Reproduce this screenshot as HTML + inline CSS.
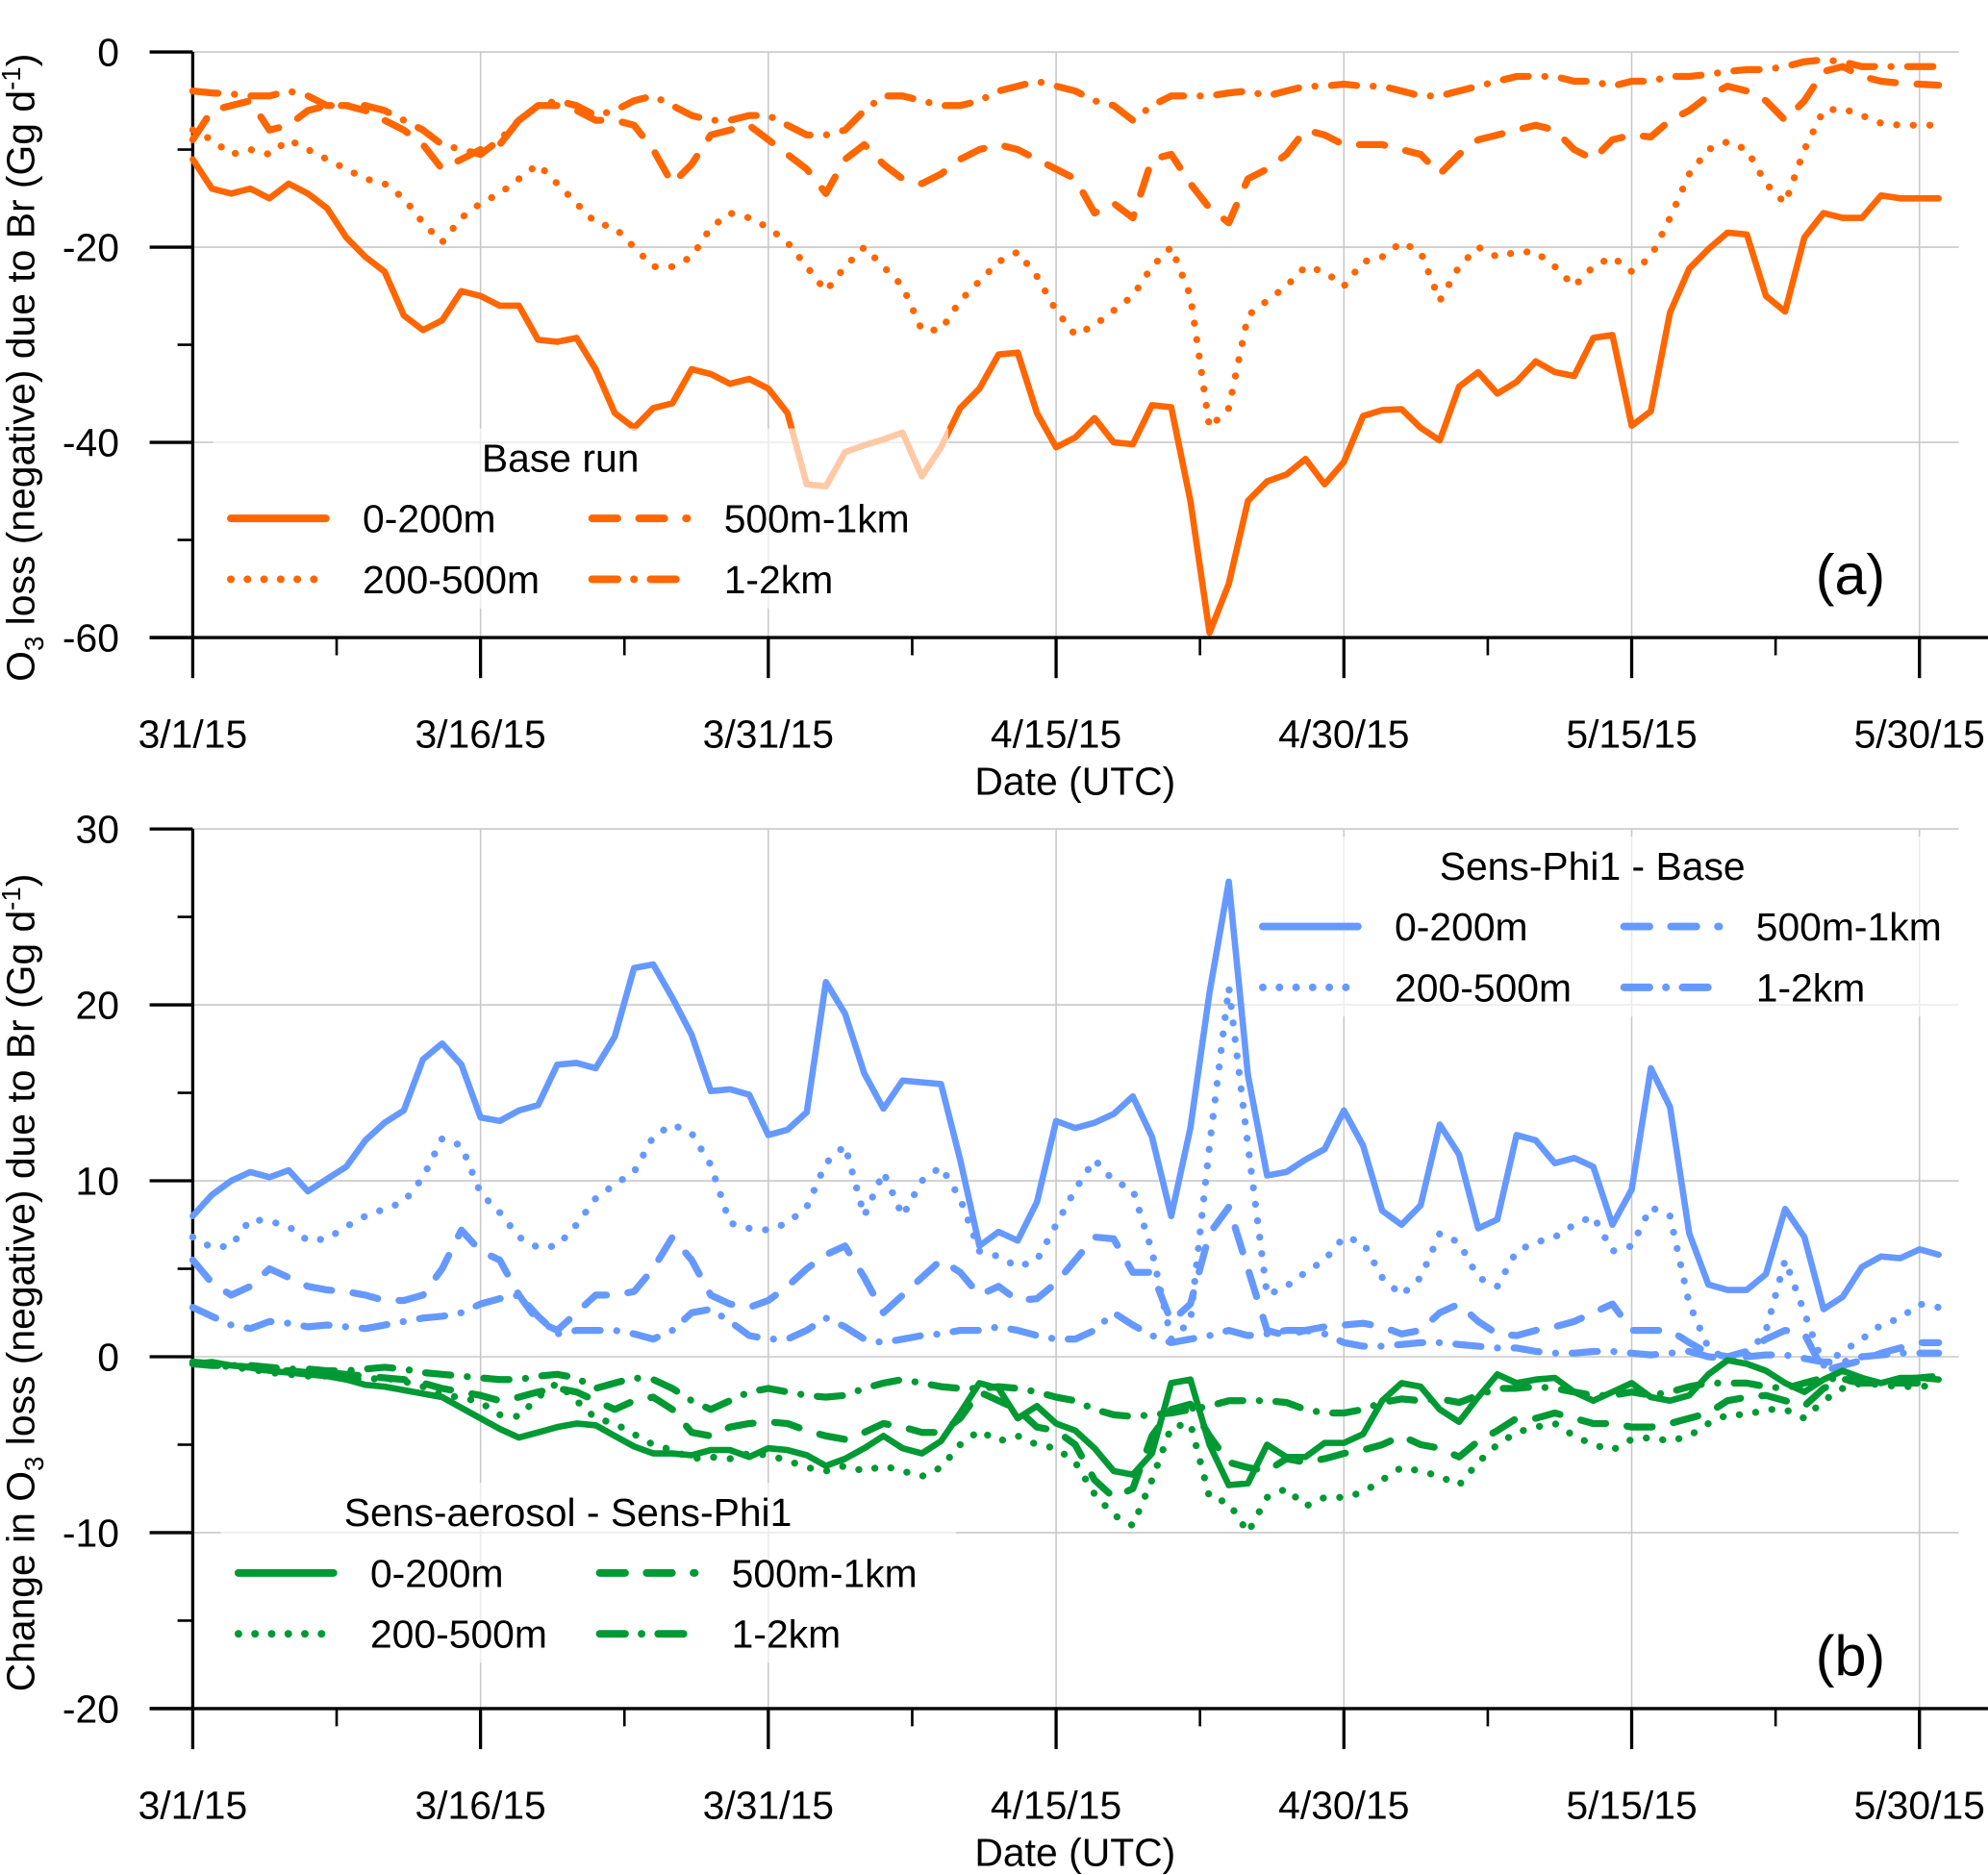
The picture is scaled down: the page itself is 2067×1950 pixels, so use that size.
<!DOCTYPE html>
<html><head><meta charset="utf-8"><style>
html,body{margin:0;padding:0;background:#fff;}
svg{display:block;font-family:"Liberation Sans",Arial,sans-serif;}
</style></head><body>
<svg id="chart" width="2067" height="1950" viewBox="0 0 1568 1479.3" xmlns="http://www.w3.org/2000/svg">
<g id="gA"></g>
<g id="gB"></g>
</svg>
<script>
const aSurf=[-11,-14,-14.5,-14,-15,-13.5,-14.5,-16,-19,-21,-22.5,-27,-28.5,-27.5,-24.5,-25,-26,-26,-29.5,-29.7,-29.3,-32.5,-37,-38.5,-36.5,-36,-32.5,-33,-34,-33.5,-34.5,-37,-44.3,-44.5,-41,-40.3,-39.7,-39,-43.5,-40.5,-36.5,-34.5,-31,-30.8,-37,-40.5,-39.5,-37.5,-40,-40.2,-36.2,-36.4,-46,-59.5,-54.5,-46,-44,-43.3,-41.7,-44.3,-42,-37.3,-36.7,-36.6,-38.5,-39.8,-34.3,-32.8,-35,-33.8,-31.7,-32.8,-33.2,-29.3,-29,-38.3,-36.8,-26.7,-22.2,-20.2,-18.5,-18.7,-25,-26.6,-19,-16.5,-17,-17,-14.7,-15,-15,-15];
const aMid=[-8,-9,-10.5,-10,-10.5,-9,-10,-11,-12,-13,-13.5,-15,-17.5,-19.5,-17,-15.5,-14.5,-13,-11.5,-13.5,-15.5,-17.5,-18,-20,-22,-22,-21,-18,-16.5,-17,-18,-19.5,-22,-24.5,-22,-20,-22,-24,-28.5,-28.5,-25.5,-23.5,-21.5,-20.5,-23,-26.5,-29,-28,-26.5,-25,-22,-20,-25,-38.5,-36.5,-27,-25.5,-24,-22,-22.5,-24,-21.5,-21,-19.5,-20.5,-25.5,-22,-20,-21,-20.5,-20.5,-22,-24,-22,-21,-22.5,-21,-17,-12.5,-10,-9.2,-10,-13.5,-15.5,-10,-6,-5.8,-6.5,-7.3,-7.5,-7.5,-7.5];
const aUpper=[-9,-6,-5.5,-5,-8,-7.5,-6,-5.5,-5.5,-6,-7,-8,-9.5,-12,-11,-10,-9.5,-7,-5.5,-5.5,-6,-7,-7,-7.5,-10,-13.5,-11.5,-8.5,-8,-7.5,-9,-10.5,-12,-14.5,-11,-9.5,-11.5,-13,-13.5,-12.5,-11,-10,-9.5,-10,-11,-12,-13,-16.5,-15.5,-17,-11,-10.5,-13.5,-16,-17.5,-13,-12,-10.5,-8,-8.5,-9.5,-9.5,-9.5,-10,-10.5,-12.5,-10.5,-9,-8.5,-8,-7.5,-8,-10,-11,-9,-8.5,-8.7,-7,-6,-4.5,-3.5,-4,-5,-7,-5,-2,-1.5,-2.5,-3,-3.2,-3.3,-3.4];
const aHigh=[-4,-4.2,-4.3,-4.5,-4.5,-4,-4.5,-5.5,-5.5,-5.5,-6,-7,-8,-9.5,-10,-10.5,-9,-7,-5.5,-5,-5.5,-6.5,-6,-5,-4.5,-5.5,-6.5,-7,-7,-6.5,-6.5,-7.5,-8.5,-8.5,-8,-6,-4.5,-4.5,-5,-5.5,-5.5,-5,-4,-3.5,-3,-3.5,-4,-5,-5.5,-7,-5.5,-4.5,-4.5,-4.5,-4.2,-4,-4.5,-4,-3.5,-3.5,-3.3,-3.5,-3.5,-4,-4.5,-4.5,-4,-3.5,-3,-2.5,-2.5,-2.5,-3,-3,-3.5,-3,-3,-2.5,-2.5,-2.3,-2,-1.8,-1.8,-1.5,-1,-0.8,-1,-1.5,-1.5,-1.5,-1.5,-1.5];
const bBlueSurf=[8,9.2,10,10.5,10.2,10.6,9.4,10.1,10.8,12.3,13.3,14,16.9,17.8,16.6,13.6,13.4,14,14.3,16.6,16.7,16.4,18.2,22.1,22.3,20.4,18.3,15.1,15.2,14.9,12.6,12.9,13.9,21.3,19.5,16.1,14.1,15.7,15.6,15.5,11.2,6.3,7.1,6.6,8.8,13.4,13,13.3,13.8,14.8,12.5,8,13,20.7,27,16,10.3,10.5,11.2,11.8,14,12,8.3,7.5,8.6,13.2,11.5,7.3,7.8,12.6,12.3,11,11.3,10.8,7.5,9.5,16.4,14.2,7,4.1,3.8,3.8,4.7,8.4,6.8,2.7,3.4,5.1,5.7,5.6,6.1,5.8];
const bBlueMid=[6.8,6.2,6.3,7.8,7.7,7.4,6.6,6.7,7.4,8,8.4,8.8,10.2,12.4,12,9.3,8.2,6.8,6.2,6.3,7.5,9,9.8,10.5,12.5,13.2,12.7,10.9,7.6,7.3,7.2,7.6,8.5,11,12,8,10.5,8,10,10.8,9,6,5.7,5.1,5.5,7.5,9.5,11.2,10,9.5,6,1,2,12,21,12,3.5,4,4.8,5.5,6.8,6.5,4.5,3.5,4.5,7,6.5,4.5,4,6,6.5,6.8,7.5,8,6,6.3,8.5,8,3,0.5,-0.2,0,1.5,5.5,2.5,-0.5,0.3,1,1.8,2.2,3,2.8];
const bBlueUpper=[5.5,4.2,3.5,4,5,4.5,4,3.8,3.7,3.5,3.2,3.2,3.5,5,7.2,6,5.5,3.5,2,1.5,2.5,3.5,3.5,3.7,5,6.8,5.5,3.5,3,2.8,3.2,4,5,5.8,6.3,4.5,2.5,3.5,4.5,5.5,4.8,3.5,4,3.2,3.3,4.2,5.5,6.8,6.7,4.8,4.8,2,3,7,8.5,5,1.5,1.2,1.5,1.7,1.8,1.9,1.7,1.3,1.5,2.5,3,2,1.3,1.2,1.5,1.7,2,2.5,3,1.5,1.5,1.5,0.8,0.2,0,0.3,1,1.5,1.3,-0.8,-0.5,-0.2,0.2,0.5,0.8,0.8];
const bBlueHigh=[2.8,2.3,1.8,1.6,2,1.9,1.7,1.8,1.7,1.6,1.8,2,2.2,2.3,2.5,3,3.3,3.5,2.3,1.3,1.5,1.5,1.5,1.3,1,1.5,2.5,2.7,2,1.2,1,1,1.5,2.2,1.7,1,0.8,1,1.2,1.3,1.5,1.5,1.7,1.5,1.2,1,1,1.5,2.5,1.8,1.2,0.8,1,1.2,1.5,1.2,1.3,1.5,1.5,1.3,0.8,0.6,0.6,0.7,0.8,0.8,0.7,0.6,0.5,0.5,0.3,0.2,0.2,0.3,0.3,0.2,0.1,0.2,0.3,0,-0.1,0,0.1,0.1,-0.1,-0.3,-0.3,0,0.1,0.2,0.2,0.2];
const bGreenSurf=[-0.4,-0.3,-0.5,-0.6,-0.8,-0.9,-1,-1.1,-1.3,-1.6,-1.7,-1.9,-2.1,-2.3,-2.9,-3.5,-4.1,-4.6,-4.3,-4,-3.8,-3.9,-4.5,-5.1,-5.5,-5.5,-5.6,-5.3,-5.3,-5.7,-5.2,-5.3,-5.6,-6.2,-5.8,-5.2,-4.5,-5.2,-5.5,-4.8,-3.2,-1.5,-1.8,-3.5,-2.8,-3.8,-4.2,-5.2,-6.5,-6.7,-5.5,-1.5,-1.3,-5,-7.3,-7.2,-5,-5.7,-5.7,-4.9,-4.9,-4.4,-2.5,-1.5,-1.7,-3,-3.7,-2.3,-1,-1.5,-1.3,-1.2,-2,-2.5,-2,-1.5,-2.3,-2.5,-2.2,-1,-0.2,-0.4,-0.8,-1.5,-2,-1.3,-0.8,-1.2,-1.5,-1.2,-1.2,-1.3];
const bGreenMid=[-0.4,-0.4,-0.6,-0.7,-0.9,-1,-1.1,-1.1,-1.2,-1.3,-1.2,-1.4,-1.7,-2.2,-2.3,-2.6,-3.3,-3.4,-2.3,-1.5,-2.5,-3.5,-3.8,-4.4,-5,-5.3,-5.8,-5.7,-5.8,-5.5,-5.6,-5.9,-6.3,-6.5,-6.2,-6.5,-6.2,-6.5,-6.8,-6.3,-5,-4.2,-4.8,-4.5,-5,-5.2,-6,-7.8,-9,-9.6,-7,-4,-3.8,-8,-8.3,-10,-8,-7.5,-8.5,-8,-8,-7.7,-7,-6.3,-6.5,-6.8,-7.3,-6,-5,-4.3,-4,-3.8,-4.5,-5,-5.3,-4.7,-4.6,-4.8,-4.5,-3.8,-3.3,-3.3,-3,-3,-3.5,-2.5,-1.8,-1.5,-1.6,-1.7,-1.7,-1.6];
const bGreenUpper=[-0.4,-0.5,-0.5,-0.6,-0.8,-0.8,-0.9,-0.9,-1,-1.1,-1.2,-1.3,-1.5,-1.8,-2,-2.2,-2.5,-2.3,-2,-1.8,-2,-2.5,-3,-2.5,-2.3,-3,-4.3,-4.5,-4,-3.8,-3.7,-3.8,-4.2,-4.5,-4.7,-4.3,-3.8,-4,-4.3,-4.3,-3.5,-2,-2.5,-3,-4,-4.2,-5,-7,-8,-7.5,-4.5,-3,-2.7,-4.5,-6,-6.3,-6.5,-5.8,-6,-5.8,-5.5,-5.3,-5,-4.5,-5,-5.2,-5.7,-4.8,-4.2,-3.5,-3.5,-3.2,-3.5,-3.8,-3.8,-4,-4,-3.8,-3.5,-3.2,-2.5,-2.3,-2.2,-2.5,-2.8,-1.8,-1.3,-1.3,-1.5,-1.5,-1.5,-1.4];
const bGreenHigh=[-0.3,-0.4,-0.5,-0.5,-0.6,-0.7,-0.7,-0.8,-0.8,-0.7,-0.6,-0.7,-0.9,-1,-1.1,-1.2,-1.3,-1.3,-1.1,-1,-1.2,-1.8,-1.5,-1.2,-1.3,-1.8,-2.5,-3,-2.5,-2,-1.8,-2,-2.2,-2.3,-2.2,-1.8,-1.5,-1.3,-1.5,-1.7,-1.8,-1.8,-1.7,-1.8,-2,-2.3,-2.5,-3,-3.3,-3.4,-3.3,-3.2,-3,-2.8,-2.5,-2.5,-2.5,-2.6,-3,-3.2,-3.2,-3,-2.6,-2.4,-2.5,-2.4,-2.6,-2.2,-1.8,-1.8,-1.7,-1.8,-2,-2.2,-2.2,-2,-2.2,-2,-1.7,-1.5,-1.5,-1.5,-1.7,-1.8,-1.5,-1.2,-1.3,-1.5,-1.5,-1.3,-1.2,-1.1];
const dateLabels=["3/1/15","3/16/15","3/31/15","4/15/15","4/30/15","5/15/15","5/30/15"];
const aTicks=[0,-20,-40,-60];
const bTicks=[30,20,10,0,-10,-20];
const layers=["0-200m","200-500m","500m-1km","1-2km"];

const NS="http://www.w3.org/2000/svg";
const X0=152, PXD=15.133;
function xs(d){return X0+d*PXD;}
const dashes={solid:"",dot:"0.1 13",dash:"20 17",dashdot:"20 13 0.1 13"};
function mk(p,tag,at,txt){const e=document.createElementNS(NS,tag);for(const k in at)e.setAttribute(k,at[k]);if(txt!=null)e.textContent=txt;p.appendChild(e);return e;}

function panel(g,top,bot,vmax,vmin,ticks,grid,minor,title,titleY){
  const ys=v=>top+(vmax-v)/(vmax-vmin)*(bot-top);
  for(const v of grid){ if(v===vmin)continue;
    const l=mk(g,"line",{x1:X0,x2:1545,y1:ys(v),y2:ys(v),stroke:"#c8c8c8","stroke-width":1.2});
    
    }
  for(let i=1;i<dateLabels.length;i++){
    const l=mk(g,"line",{x1:xs(i*15),x2:xs(i*15),y1:top,y2:bot,stroke:"#c8c8c8","stroke-width":1.2});
    
    }
  const ax=mk(g,"path",{d:`M${X0},${top}V${bot}M118,${bot}H1568`,stroke:"#000","stroke-width":2.5,fill:"none"});
  
  
  for(const v of ticks){
    mk(g,"line",{x1:118,x2:X0,y1:ys(v),y2:ys(v),stroke:"#000","stroke-width":2.5});
    const t=mk(g,"text",{x:94,y:ys(v)+11,"text-anchor":"end","font-size":31},String(v));
    
    }
  for(const v of minor) mk(g,"line",{x1:140,x2:X0,y1:ys(v),y2:ys(v),stroke:"#000","stroke-width":2});
  for(let i=0;i<dateLabels.length;i++){
    mk(g,"line",{x1:xs(i*15),x2:xs(i*15),y1:bot,y2:bot+32,stroke:"#000","stroke-width":2.5});
    if(i<6) mk(g,"line",{x1:xs(i*15+7.5),x2:xs(i*15+7.5),y1:bot,y2:bot+14,stroke:"#000","stroke-width":2});
    const t=mk(g,"text",{x:xs(i*15),y:bot+87,"text-anchor":"middle","font-size":31},dateLabels[i]);
    
    }
  const xt=mk(g,"text",{x:848,y:bot+124,"text-anchor":"middle","font-size":31},"Date (UTC)");
  
  
  const yt=mk(g,"text",{transform:`translate(27,${titleY}) rotate(-90)`,"text-anchor":"middle","font-size":31});
  yt.innerHTML=title;
  
  
  return ys;
}
function series(g,ys,vals,color,style,name){
  let d="";vals.forEach((v,i)=>{d+=(i?"L":"M")+xs(i).toFixed(1)+","+ys(v).toFixed(1);});
  const p=mk(g,"path",{d:d,fill:"none",stroke:color,"stroke-width":style==="solid"?5:5.5,"stroke-linejoin":"round","stroke-linecap":"round","stroke-dasharray":dashes[style]});
  
  
}
function legend(g,x,y,w,h,title,color,name){
  const r=mk(g,"rect",{x:x,y:y,width:w,height:h,fill:"#fff","fill-opacity":0.65});
  
  
  const t=mk(g,"text",{x:x+w/2-16,y:y+34,"text-anchor":"middle","font-size":31},title);
  
  
  const st=["solid","dot","dash","dashdot"];
  const pos=[[0,0],[0,1],[1,0],[1,1]];
  for(let i=0;i<4;i++){
    const lx=x+14+pos[i][0]*285, ly=y+82+pos[i][1]*48;
    const l=mk(g,"line",{x1:lx,x2:lx+75,y1:ly-11,y2:ly-11,stroke:color,"stroke-width":6,"stroke-linecap":"round","stroke-dasharray":dashes[st[i]]});
    
    
    const tt=mk(g,"text",{x:lx+104,y:ly,"font-size":31},layers[i]);
    
    
  }
}
const O="#ff6600",B="#6699ff",G="#009933";
const gA=document.getElementById("gA"), gB=document.getElementById("gB");
const ysA=panel(gA,41,503,0,-60,aTicks,[0,-20,-40,-60],[-10,-30,-50],'O<tspan font-size="21" dy="7">3</tspan><tspan dy="-7"> loss (negative) due to Br (Gg d</tspan><tspan font-size="21" dy="-11">-1</tspan><tspan dy="11">)</tspan>',290);
series(gA,ysA,aHigh,O,"dashdot","series-a-1-2km");
series(gA,ysA,aUpper,O,"dash","series-a-500m-1km");
series(gA,ysA,aMid,O,"dot","series-a-200-500m");
series(gA,ysA,aSurf,O,"solid","series-a-0-200m");
legend(gA,168,338,580,142,"Base run",O,"legend-a");
const la=mk(gA,"text",{x:1487,y:469,"text-anchor":"end","font-size":45},"(a)");


const ysB=panel(gB,654,1348,30,-20,bTicks,[30,20,10,0,-10,-20],[25,15,5,-5,-15],'Change in O<tspan font-size="21" dy="7">3</tspan><tspan dy="-7"> loss (negative) due to Br (Gg d</tspan><tspan font-size="21" dy="-11">-1</tspan><tspan dy="11">)</tspan>',1012);
series(gB,ysB,bBlueHigh,B,"dashdot","series-b-blue-1-2km");
series(gB,ysB,bBlueUpper,B,"dash","series-b-blue-500m-1km");
series(gB,ysB,bBlueMid,B,"dot","series-b-blue-200-500m");
series(gB,ysB,bBlueSurf,B,"solid","series-b-blue-0-200m");
series(gB,ysB,bGreenHigh,G,"dashdot","series-b-green-1-2km");
series(gB,ysB,bGreenUpper,G,"dash","series-b-green-500m-1km");
series(gB,ysB,bGreenMid,G,"dot","series-b-green-200-500m");
series(gB,ysB,bGreenSurf,G,"solid","series-b-green-0-200m");
legend(gB,982,660,580,142,"Sens-Phi1 - Base",B,"legend-b-blue");
legend(gB,174,1170,580,142,"Sens-aerosol - Sens-Phi1",G,"legend-b-green");
const lb=mk(gB,"text",{x:1487,y:1322,"text-anchor":"end","font-size":45},"(b)");


</script>
</body></html>
